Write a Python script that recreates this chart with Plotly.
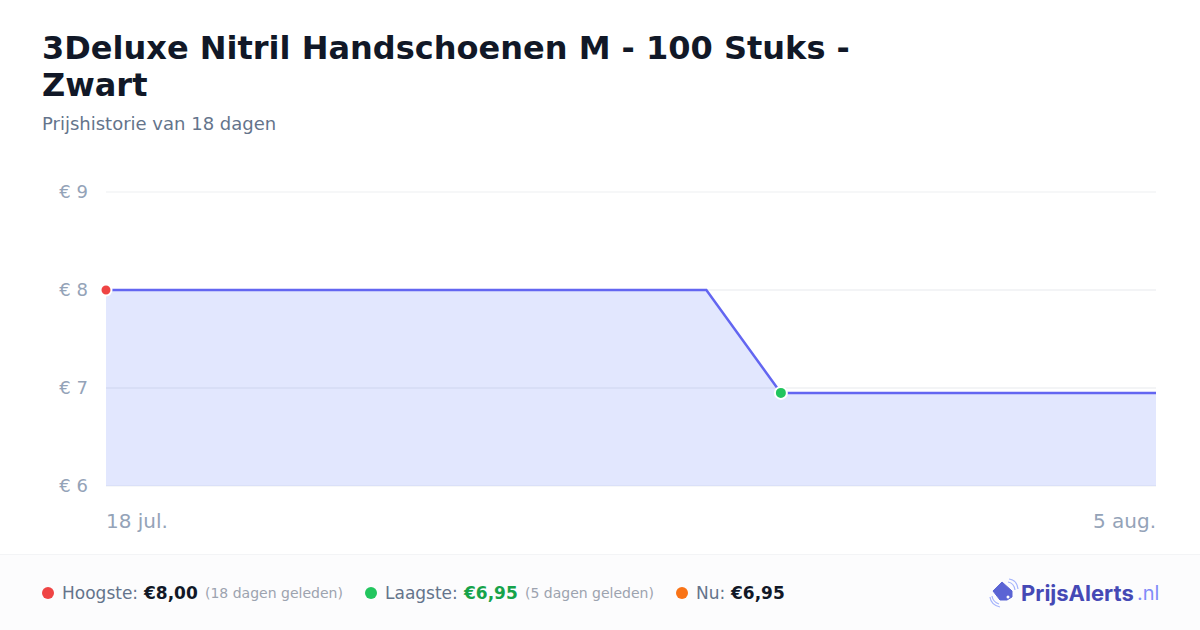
import plotly.graph_objects as go

FONT = "DejaVu Sans"
W, H = 1200, 630
# plot area in picture pixels
LEFT, RIGHT, TOP, BOTTOM = 106, 1156, 192, 486

# price history
dates = ["2025-07-18 00:00", "2025-07-28 07:00", "2025-07-29 13:40", "2025-08-05 00:00"]
prices = [8.00, 8.00, 6.95, 6.95]
high_date, high_price = ["2025-07-18 00:00"], [8.00]
low_date, low_price = ["2025-07-29 13:40"], [6.95]
y_ticks = [6, 7, 8, 9]
y_labels = ["€ 6", "€ 7", "€ 8", "€ 9"]
x_labels = ["18 jul.", "5 aug."]

title_line1 = "3Deluxe Nitril Handschoenen M - 100 Stuks -"
title_line2 = "Zwart"
subtitle = "Prijshistorie van 18 dagen"


# paper coordinates are relative to the plot area, so convert from pixels
def px(x):
    return (x - LEFT) / (RIGHT - LEFT)


def py(y):
    return (BOTTOM - y) / (BOTTOM - TOP)


def label(x, y, text, size, color, anchor="left", family=FONT):
    return dict(
        x=px(x), y=py(y), xref="paper", yref="paper",
        text=text, showarrow=False, xanchor=anchor, yanchor="middle",
        align=anchor, borderpad=0, borderwidth=0,
        font=dict(family=family, size=size, color=color),
    )


fig = go.Figure()

fig.add_trace(go.Scatter(
    x=dates, y=prices, mode="lines", fill="tozeroy",
    line=dict(color="#6366f1", width=2.5),
    fillcolor="rgba(83,111,249,0.17)",
    hoverinfo="skip",
))
fig.add_trace(go.Scatter(
    x=high_date, y=high_price, mode="markers", cliponaxis=False,
    marker=dict(color="#ef4444", size=11, line=dict(color="white", width=2)),
    hoverinfo="skip",
))
fig.add_trace(go.Scatter(
    x=low_date, y=low_price, mode="markers", cliponaxis=False,
    marker=dict(color="#22c55e", size=12, line=dict(color="white", width=2)),
    hoverinfo="skip",
))

annotations = [
    label(42, 48, f"<b>{title_line1}</b>", 32, "#111827"),
    label(42, 85, f"<b>{title_line2}</b>", 32, "#111827"),
    label(42, 124, subtitle, 18, "#64748b"),
    label(106, 521, x_labels[0], 20, "#94a3b8"),
    label(1156, 521, x_labels[1], 20, "#94a3b8", anchor="right"),
    # footer stats
    label(62, 593, "Hoogste:", 17, "#64748b"),
    label(143, 593, "<b>€8,00</b>", 17, "#111827"),
    label(205, 593, "(18 dagen geleden)", 14, "#9ca3af"),
    label(385, 593, "Laagste:", 17, "#64748b"),
    label(463, 593, "<b>€6,95</b>", 17, "#16a34a"),
    label(525, 593, "(5 dagen geleden)", 14, "#9ca3af"),
    label(696, 593, "Nu:", 17, "#64748b"),
    label(730, 593, "<b>€6,95</b>", 17, "#111827"),
    # logo text
    label(1021, 593, "<b>PrijsAlerts</b>", 22, "#4549b5", family="Inter"),
    label(1137, 593, ".nl", 20, "#818cf8", family="Inter"),
]

shapes = [
    # footer band
    dict(type="rect", xref="paper", yref="paper", layer="below",
         x0=px(0), x1=px(W), y0=py(H), y1=py(554.5),
         fillcolor="#fcfcfd", line=dict(width=0)),
    dict(type="line", xref="paper", yref="paper", layer="below",
         x0=px(0), x1=px(W), y0=py(554.5), y1=py(554.5),
         line=dict(color="#f3f4f6", width=1)),
    # plotly drops gridlines on the range ends, so add them here
    dict(type="line", xref="paper", yref="paper", layer="below",
         x0=0, x1=1, y0=1, y1=1, line=dict(color="#f3f4f6", width=1.5)),
    dict(type="line", xref="paper", yref="paper", layer="below",
         x0=0, x1=1, y0=0, y1=0, line=dict(color="#f3f4f6", width=1.5)),
]

# footer dots
for cx, color in [(48, "#ef4444"), (371, "#22c55e"), (682, "#f97316")]:
    shapes.append(dict(
        type="circle", xref="paper", yref="paper",
        x0=px(cx - 6), x1=px(cx + 6), y0=py(599), y1=py(587),
        fillcolor=color, line=dict(width=0),
    ))


def logo_path(points):
    return "M " + " L ".join(f"{px(x):.5f},{py(y):.5f}" for x, y in points) + " Z"


# logo: price tag and signal arcs
shapes.append(dict(
    type="path", xref="paper", yref="paper",
    path=logo_path([(1002, 582), (1012, 591), (1012, 597), (1007, 600), (1000, 600), (993, 591)]),
    fillcolor="#5b64d4", line=dict(color="#5b64d4", width=1),
))
shapes.append(dict(
    type="circle", xref="paper", yref="paper",
    x0=px(1006.5), x1=px(1009.5), y0=py(598.5), y1=py(595.5),
    fillcolor="white", line=dict(width=0),
))
arcs = [
    ((1008, 582), (1014, 583), (1015, 590)),
    ((1009, 579), (1017, 580), (1018, 589)),
    ((992, 596), (993, 602), (999, 604)),
    ((990, 597), (991, 605), (1000, 607)),
]
for a, b, c in arcs:
    path = f"M {px(a[0]):.5f},{py(a[1]):.5f} Q {px(b[0]):.5f},{py(b[1]):.5f} {px(c[0]):.5f},{py(c[1]):.5f}"
    shapes.append(dict(type="path", xref="paper", yref="paper", path=path,
                       line=dict(color="#a5b4fc", width=1.2)))

fig.update_layout(
    width=W, height=H,
    margin=dict(l=LEFT, r=W - RIGHT, t=TOP, b=H - BOTTOM, pad=0),
    paper_bgcolor="white", plot_bgcolor="white",
    showlegend=False,
    font=dict(family=FONT),
    annotations=annotations,
    shapes=shapes,
    xaxis=dict(
        range=[dates[0], dates[-1]], showgrid=False, zeroline=False,
        showticklabels=False, ticks="",
    ),
    yaxis=dict(
        range=[6, 9], tickmode="array", tickvals=y_ticks, ticktext=y_labels,
        showgrid=True, gridcolor="#f3f4f6", gridwidth=1.5, zeroline=False,
        showline=False, ticks="", ticklabelstandoff=17,
        tickfont=dict(family=FONT, size=18, color="#94a3b8"),
    ),
)

fig.write_html(
    "out.html",
    config={"displayModeBar": False},
    post_script="document.body.style.margin='0';",
)
